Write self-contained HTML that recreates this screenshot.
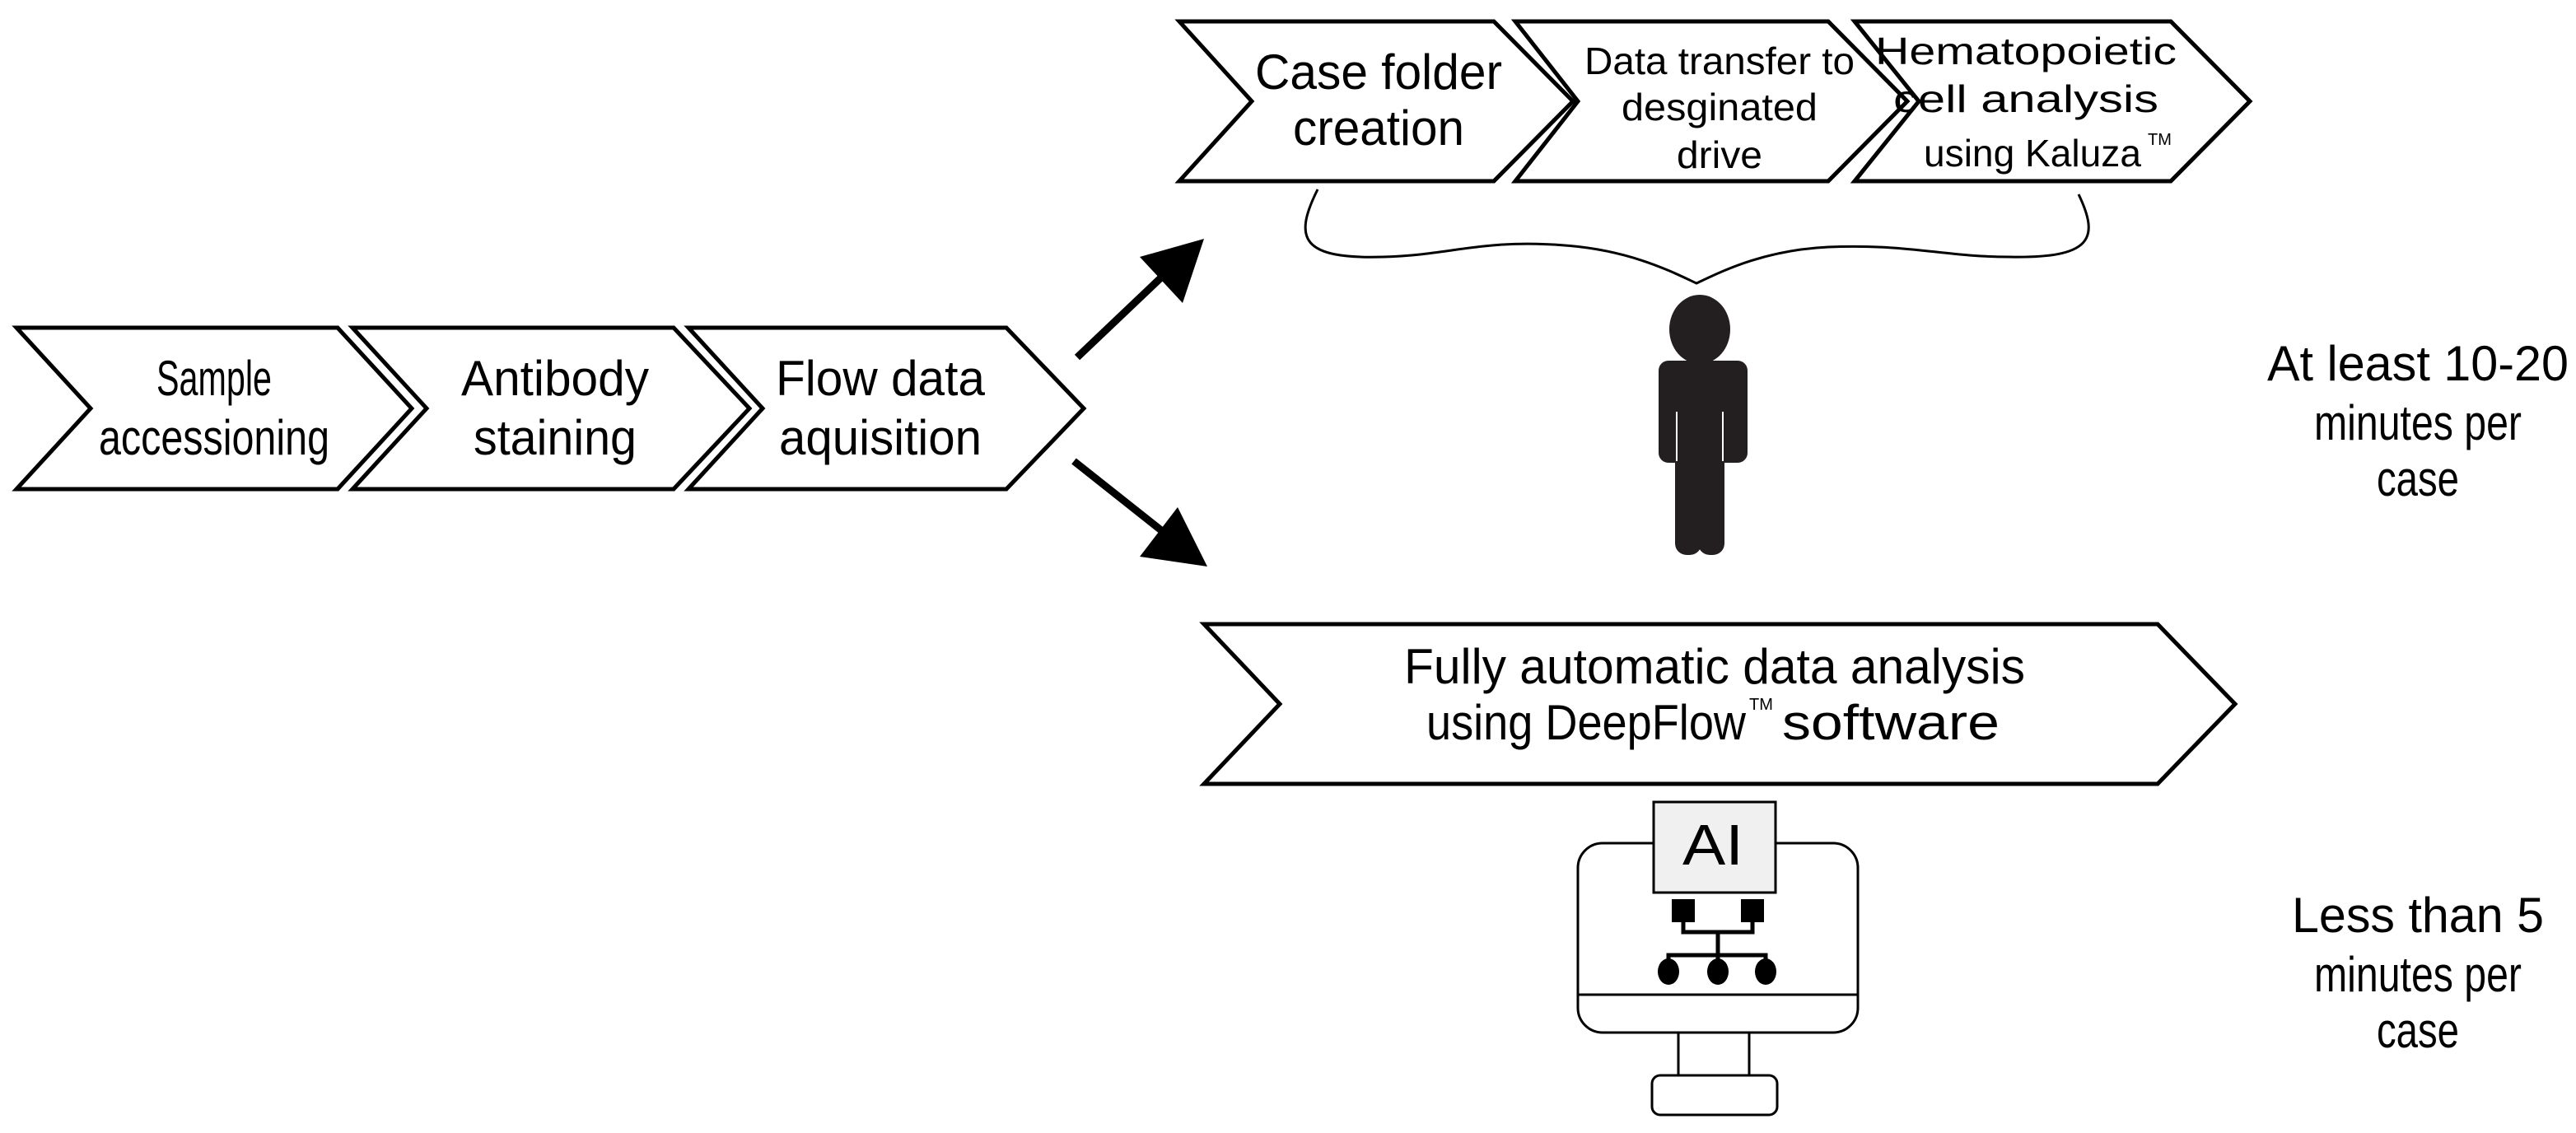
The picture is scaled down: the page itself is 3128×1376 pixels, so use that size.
<!DOCTYPE html>
<html><head><meta charset="utf-8"><style>html,body{margin:0;padding:0;background:#fff}svg{display:block}</style></head>
<body>
<svg width="3128" height="1376" viewBox="0 0 3128 1376" xmlns="http://www.w3.org/2000/svg" font-family="Liberation Sans, Arial, sans-serif" fill="#000">
<g fill="#fff" stroke="#000" stroke-width="5" stroke-linejoin="miter">
<polygon points="20,398 410,398 500,496 410,594 20,594 110,496"/>
<polygon points="428,398 818,398 910,496 818,594 428,594 518,496"/>
<polygon points="836,398 1222,398 1316,496 1222,594 836,594 926,496"/>
<polygon points="1432,26 1814,26 1910,123 1814,220 1432,220 1520,123"/>
<polygon points="1840,26 2220,26 2316,123 2220,220 1840,220 1916,123"/>
<polygon points="2252,26 2636,26 2732,123 2636,220 2252,220 2330,123"/>
<polygon points="1462,758 2620,758 2714,855 2620,952 1462,952 1554,855"/>
</g>
<g stroke="#000" stroke-width="9" fill="none">
<line x1="1308" y1="434" x2="1410" y2="337"/>
<line x1="1304" y1="560" x2="1410" y2="644"/>
</g>
<polygon points="1462,290 1436,368 1384,312"/>
<polygon points="1466,688 1384,676 1430,616"/>
<path d="M1600,230 C1570,290 1580,315 1680,312 C1760,310 1800,290 1900,298 C1980,304 2030,330 2060,344 C2090,330 2140,304 2220,300 C2320,296 2360,312 2440,312 C2540,314 2550,290 2524,236" fill="none" stroke="#000" stroke-width="3"/>
<g fill="#231f20">
<ellipse cx="2064" cy="400" rx="37" ry="42"/>
<rect x="2014" y="438" width="108" height="124" rx="12"/>
<rect x="2034" y="500" width="32" height="174" rx="14"/>
<rect x="2062" y="500" width="32" height="174" rx="14"/>
</g>
<line x1="2036" y1="500" x2="2036" y2="560" stroke="#fff" stroke-width="2"/>
<line x1="2092" y1="500" x2="2092" y2="560" stroke="#fff" stroke-width="2"/>
<g stroke="#000" stroke-width="3" fill="#fff">
<rect x="1916" y="1024" width="340" height="230" rx="30"/>
<line x1="1916" y1="1208" x2="2256" y2="1208"/>
<rect x="2038" y="1254" width="86" height="52"/>
<rect x="2006" y="1306" width="152" height="48" rx="10"/>
<rect x="2008" y="974" width="148" height="110" fill="#f0f0f0"/>
</g>
<text x="2080" y="1050" font-size="70" text-anchor="middle" textLength="74" lengthAdjust="spacingAndGlyphs">AI</text>
<g stroke="#000" stroke-width="5" fill="none">
<path d="M2044,1106 V1132 H2128 V1106"/>
<path d="M2086,1132 V1180 M2026,1180 V1160 H2144 V1180"/>
</g>
<rect x="2030" y="1092" width="28" height="28"/>
<rect x="2114" y="1092" width="28" height="28"/>
<ellipse cx="2026" cy="1180" rx="13" ry="16"/>
<ellipse cx="2086" cy="1180" rx="13" ry="16"/>
<ellipse cx="2144" cy="1180" rx="13" ry="16"/>
<g font-size="60" text-anchor="middle">
<text x="260" y="480" textLength="140" lengthAdjust="spacingAndGlyphs">Sample</text>
<text x="260" y="552" textLength="280" lengthAdjust="spacingAndGlyphs">accessioning</text>
<text x="674" y="480" textLength="228" lengthAdjust="spacingAndGlyphs">Antibody</text>
<text x="674" y="552" textLength="198" lengthAdjust="spacingAndGlyphs">staining</text>
<text x="1069" y="480" textLength="254" lengthAdjust="spacingAndGlyphs">Flow data</text>
<text x="1069" y="552" textLength="246" lengthAdjust="spacingAndGlyphs">aquisition</text>
<text x="1674" y="108" textLength="300" lengthAdjust="spacingAndGlyphs">Case folder</text>
<text x="1674" y="176" textLength="208" lengthAdjust="spacingAndGlyphs">creation</text>
<text x="2082" y="830" textLength="754" lengthAdjust="spacingAndGlyphs">Fully automatic data analysis</text>
<text x="2936" y="462" textLength="366" lengthAdjust="spacingAndGlyphs">At least 10-20</text>
<text x="2936" y="534" textLength="252" lengthAdjust="spacingAndGlyphs">minutes per</text>
<text x="2936" y="602" textLength="100" lengthAdjust="spacingAndGlyphs">case</text>
<text x="2936" y="1132" textLength="306" lengthAdjust="spacingAndGlyphs">Less than 5</text>
<text x="2936" y="1204" textLength="252" lengthAdjust="spacingAndGlyphs">minutes per</text>
<text x="2936" y="1272" textLength="100" lengthAdjust="spacingAndGlyphs">case</text>
</g>
<text x="1732" y="898" font-size="60" textLength="388" lengthAdjust="spacingAndGlyphs">using DeepFlow</text>
<text x="2124" y="862" font-size="20">TM</text>
<text x="2164" y="898" font-size="60" textLength="264" lengthAdjust="spacingAndGlyphs">software</text>
<g font-size="46" text-anchor="middle">
<text x="2088" y="90" textLength="328" lengthAdjust="spacingAndGlyphs">Data transfer to</text>
<text x="2088" y="146" textLength="238" lengthAdjust="spacingAndGlyphs">desginated</text>
<text x="2088" y="204" textLength="104" lengthAdjust="spacingAndGlyphs">drive</text>
<text x="2460" y="78" textLength="366" lengthAdjust="spacingAndGlyphs">Hematopoietic</text>
<text x="2460" y="136" textLength="322" lengthAdjust="spacingAndGlyphs">cell analysis</text>
<text x="2468" y="202" textLength="264" lengthAdjust="spacingAndGlyphs">using Kaluza</text>
</g>
<text x="2608" y="176" font-size="20">TM</text>
</svg>
</body></html>
